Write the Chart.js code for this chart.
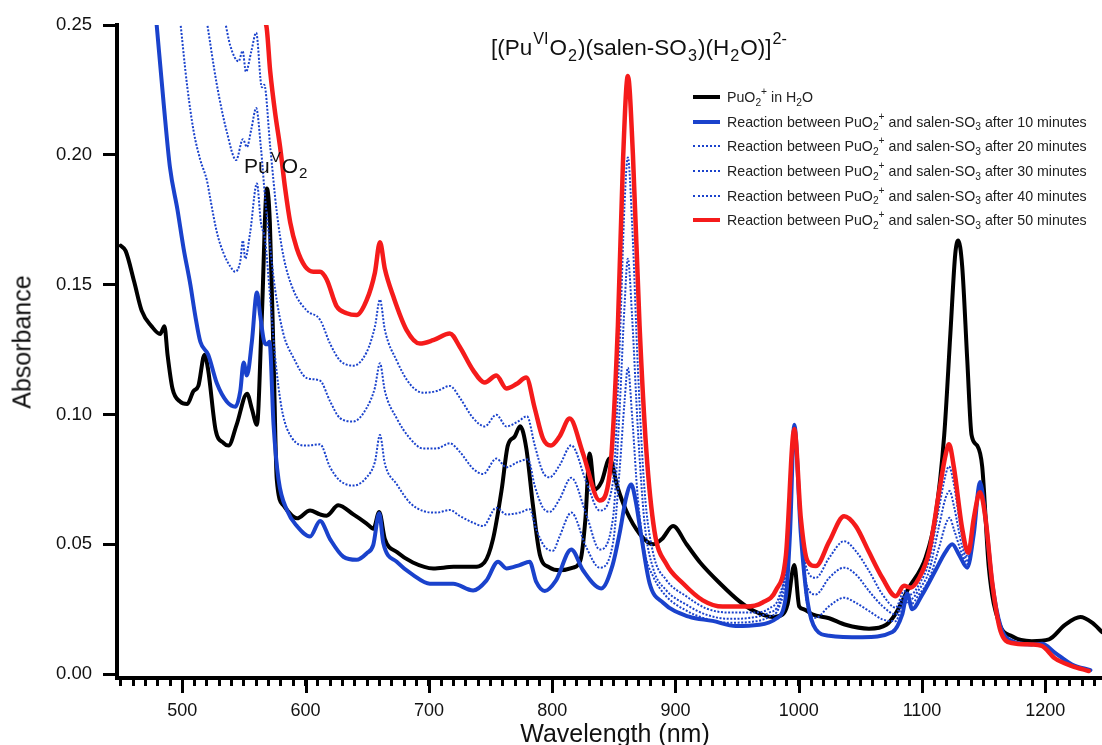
<!DOCTYPE html>
<html>
<head>
<meta charset="utf-8">
<script src="https://cdn.jsdelivr.net/npm/chart.js@4.4.0/dist/chart.umd.min.js"></script>
<style>
  html, body { margin: 0; padding: 0; background: #fff; }
  #wrap { position: relative; width: 1102px; height: 745px; overflow: hidden; font-family: 'Liberation Sans', Arial, sans-serif; color: #111; }
  #chart { position: absolute; left: 0; top: 0; }
  .txt { position: absolute; white-space: nowrap; line-height: 1; }
  .sup { font-size: 0.72em; position: relative; top: -0.7em; line-height: 0; padding: 0 1px; }
  .sub { font-size: 0.72em; position: relative; top: 0.35em; line-height: 0; padding: 0 1px; }
  .leg { position: absolute; left: 693px; font-size: 14.2px; color: #222; }
  .leg .row { position: absolute; left: 0; height: 14px; white-space: nowrap; }
  .leg .ln { position: absolute; left: 0; width: 27px; }
  .leg .lb { position: absolute; left: 34px; top: -8px; line-height: 16px; }
  .leg .sup, .leg .sub { padding: 0; }
</style>
</head>
<body>
<div id="wrap">
  <canvas id="chart" width="1102" height="745"></canvas>

  <div class="txt" style="left:244px; top:155px; font-size:21px;">Pu<span class="sup">V</span>O<span class="sub">2</span></div>
  <div class="txt" style="left:491px; top:37px; font-size:22.5px;">[(Pu<span class="sup">VI</span>O<span class="sub">2</span>)(salen-SO<span class="sub">3</span>)(H<span class="sub">2</span>O)]<span class="sup">2-</span></div>

  <div class="txt" style="left:22px; top:342px; font-size:25px; transform: translate(-50%,-50%) rotate(-90deg);">Absorbance</div>
  <div class="txt" style="left:615px; top:733px; font-size:25px; transform: translate(-50%,-50%);">Wavelength (nm)</div>

  <div class="leg" id="legend"></div>
</div>

<script>
// wavelengths (nm) and absorbance, one pair of arrays per trace
const wlBlack = [450, 454, 461, 467, 475, 482, 485.5, 488, 492, 498, 504, 509, 513, 518, 521, 527, 533.5, 537.5, 544, 552.5, 556.5, 560.5, 564.5, 568.6, 571, 574, 576.6, 582, 593, 603.6, 611.7, 617, 626.5, 638.7, 649.5, 655, 659.7, 664.3, 674, 687, 703.5, 720, 736, 745, 752, 759, 764, 769.6, 774, 779, 784.4, 790, 798, 806, 817, 823, 827, 830.4, 834.4, 840, 846.6, 853, 860, 871, 882, 889, 898, 909, 920, 936, 952, 963, 979, 987, 991, 996.4, 1000.4, 1004, 1011, 1024.7, 1038, 1057, 1071, 1079, 1089, 1103, 1111, 1118, 1123, 1127, 1129.4, 1132.6, 1136.7, 1140.2, 1144.8, 1148.8, 1154.2, 1162.3, 1173, 1189, 1203, 1216, 1228.5, 1238, 1246];
const absBlack = [0.165, 0.163, 0.151, 0.140, 0.134, 0.131, 0.134, 0.123, 0.110, 0.105, 0.104, 0.109, 0.111, 0.123, 0.117, 0.094, 0.089, 0.088, 0.096, 0.108, 0.102, 0.096, 0.138, 0.187, 0.174, 0.122, 0.075, 0.065, 0.060, 0.063, 0.0615, 0.061, 0.065, 0.0615, 0.058, 0.056, 0.0624, 0.052, 0.047, 0.043, 0.0407, 0.0413, 0.0413, 0.043, 0.052, 0.071, 0.088, 0.0915, 0.0955, 0.087, 0.065, 0.046, 0.041, 0.040, 0.041, 0.044, 0.060, 0.085, 0.071, 0.074, 0.083, 0.072, 0.063, 0.054, 0.050, 0.052, 0.057, 0.050, 0.043, 0.035, 0.028, 0.0245, 0.022, 0.023, 0.027, 0.042, 0.026, 0.025, 0.023, 0.0215, 0.019, 0.0175, 0.019, 0.0236, 0.033, 0.045, 0.061, 0.092, 0.131, 0.162, 0.167, 0.157, 0.121, 0.092, 0.088, 0.080, 0.041, 0.020, 0.0146, 0.0127, 0.0134, 0.019, 0.022, 0.0198, 0.0162];

const wl10 = [479, 485, 490, 496, 501, 506.5, 510.5, 514.6, 521, 528, 536, 543, 547, 549.7, 552.4, 556.4, 560.5, 563.2, 566.4, 568.6, 570.7, 574, 578, 585, 593, 603.6, 611.7, 619.8, 630.6, 641.4, 649.5, 654.9, 659.7, 663, 673.8, 687.3, 700.8, 719.7, 735.9, 746.6, 756.1, 762.9, 773.6, 781.7, 787.1, 794, 803, 815.5, 825, 839.8, 849, 855, 860, 864.1, 868, 872, 879, 890, 911, 930, 949, 968, 981.5, 989.6, 993, 996.4, 1001.7, 1007.1, 1013.9, 1024.7, 1051.7, 1076, 1084, 1088, 1092, 1100.3, 1111, 1119, 1124.5, 1130, 1136.7, 1142, 1147, 1151.5, 1157, 1163.7, 1173, 1189, 1197.4, 1208, 1221.7, 1236.6];
const abs10 = [0.251, 0.219, 0.195, 0.179, 0.164, 0.150, 0.138, 0.128, 0.123, 0.112, 0.105, 0.103, 0.109, 0.120, 0.115, 0.128, 0.147, 0.138, 0.128, 0.127, 0.128, 0.096, 0.075, 0.063, 0.057, 0.053, 0.059, 0.052, 0.0452, 0.044, 0.0465, 0.0498, 0.062, 0.0505, 0.0433, 0.0381, 0.0348, 0.0348, 0.0322, 0.036, 0.0433, 0.0407, 0.042, 0.0433, 0.0355, 0.032, 0.036, 0.048, 0.040, 0.033, 0.042, 0.055, 0.068, 0.073, 0.066, 0.054, 0.035, 0.0275, 0.0221, 0.0205, 0.0185, 0.019, 0.0213, 0.030, 0.055, 0.096, 0.054, 0.028, 0.0172, 0.0148, 0.0142, 0.0162, 0.023, 0.031, 0.025, 0.0307, 0.040, 0.047, 0.050, 0.046, 0.041, 0.054, 0.074, 0.060, 0.035, 0.0185, 0.0127, 0.0114, 0.0117, 0.0082, 0.0037, 0.0015];

const wl20 = [498.4, 503.8, 509.2, 514.6, 520, 522.7, 528.1, 533.5, 538.9, 542.9, 547, 549.1, 551, 555, 560.5, 563.7, 567.2, 570.7, 575.3, 580.7, 588.8, 601, 611.7, 619.8, 627.9, 638.7, 649.5, 656.2, 660.3, 664.3, 673.8, 684.6, 695.4, 706.2, 717, 725.1, 735.9, 744, 754.7, 762.9, 773.6, 781.7, 787.1, 793.9, 800.6, 806, 815.5, 827.7, 838.5, 849.3, 854.7, 858.7, 861.4, 864.9, 869.5, 874.9, 881.7, 892.5, 908.7, 924.9, 943.7, 962.6, 976.1, 984.2, 990, 996.4, 1001.7, 1007.1, 1013.9, 1024.7, 1036.8, 1046.3, 1057, 1067.9, 1078.7, 1085.4, 1090.8, 1097.6, 1105.7, 1113.8, 1119.2, 1122.4, 1125.9, 1132.6, 1137.5, 1142, 1147, 1151.5, 1157, 1163.7];
const abs20 = [0.251, 0.227, 0.209, 0.198, 0.190, 0.183, 0.170, 0.162, 0.157, 0.155, 0.159, 0.167, 0.160, 0.170, 0.189, 0.174, 0.167, 0.148, 0.122, 0.102, 0.091, 0.088, 0.0885, 0.0797, 0.0745, 0.0726, 0.0758, 0.0817, 0.0921, 0.081, 0.0732, 0.066, 0.0628, 0.0622, 0.0632, 0.0609, 0.0583, 0.057, 0.0641, 0.0615, 0.0622, 0.0635, 0.0557, 0.0491, 0.0475, 0.053, 0.0622, 0.0488, 0.041, 0.0504, 0.0787, 0.105, 0.118, 0.099, 0.0677, 0.0473, 0.0378, 0.030, 0.0245, 0.0213, 0.0198, 0.0202, 0.0221, 0.026, 0.040, 0.095, 0.054, 0.0262, 0.0217, 0.0262, 0.0294, 0.0275, 0.0243, 0.0211, 0.0204, 0.0281, 0.0268, 0.0307, 0.0365, 0.0487, 0.0577, 0.0602, 0.0557, 0.0461, 0.0422, 0.055, 0.073, 0.060, 0.035, 0.0185];

const wl30 = [520, 528, 536, 543.7, 549.1, 552.4, 556, 559.9, 563.7, 567.2, 570.7, 575.3, 582, 590, 601, 611.7, 619.8, 627.9, 638.7, 649.5, 656.2, 660.3, 664.3, 673.8, 684.6, 695.4, 706.2, 717, 725.1, 735.9, 744, 754.7, 762.9, 772.3, 780.4, 785.8, 792.5, 797.9, 806, 815.5, 827.7, 838.5, 849.3, 854.7, 858.7, 861.4, 864.9, 869.5, 874.9, 881.7, 892.5, 908.7, 924.9, 943.7, 962.6, 976.1, 984.2, 990, 996.4, 1001.7, 1007.1, 1013.9, 1024.7, 1036.8, 1046.3, 1057, 1067.9, 1078.7, 1085.4, 1090.8, 1097.6, 1105.7, 1113.8, 1119.2, 1122.4, 1125.9, 1132.6, 1137.5, 1142, 1147, 1151.5, 1157, 1163.7];
const abs30 = [0.251, 0.227, 0.209, 0.198, 0.206, 0.203, 0.210, 0.218, 0.203, 0.183, 0.167, 0.148, 0.131, 0.122, 0.114, 0.113, 0.1051, 0.0986, 0.0973, 0.1025, 0.1103, 0.1197, 0.109, 0.0986, 0.0908, 0.0869, 0.0869, 0.0889, 0.0856, 0.0791, 0.0771, 0.083, 0.0797, 0.0817, 0.0827, 0.0726, 0.0641, 0.0625, 0.0674, 0.0756, 0.0614, 0.048, 0.060, 0.102, 0.142, 0.160, 0.137, 0.0944, 0.0583, 0.041, 0.0323, 0.0268, 0.0229, 0.0213, 0.0218, 0.0237, 0.0276, 0.045, 0.095, 0.055, 0.0333, 0.0307, 0.0371, 0.041, 0.0384, 0.032, 0.0262, 0.023, 0.030, 0.0288, 0.0326, 0.0397, 0.057, 0.068, 0.0705, 0.0647, 0.049, 0.0435, 0.0557, 0.073, 0.060, 0.035, 0.0185];

const wl40 = [534.8, 538.9, 545.6, 548.9, 551.6, 556, 559.9, 564.5, 566.4, 571.3, 576.6, 582, 590, 601, 611.7, 619.8, 627.9, 638.7, 649.5, 656.2, 660.3, 664.3, 673.8, 684.6, 695.4, 706.2, 717, 725.1, 735.9, 745.3, 754.7, 762.9, 772.3, 779.6, 785.8, 792.5, 797.9, 806, 815.5, 827.7, 838.5, 849.3, 854.7, 858.7, 861.4, 864.9, 869.5, 874.9, 881.7, 892.5, 908.7, 924.9, 943.7, 962.6, 976.1, 984.2, 991, 996.4, 1001.7, 1007.1, 1013.9, 1024.7, 1036.8, 1046.3, 1057, 1067.9, 1078.7, 1085.4, 1090.8, 1097.6, 1105.7, 1113.8, 1119.2, 1121.9, 1125.9, 1132.6, 1137.5, 1142, 1147, 1151.5, 1157, 1163.7];
const abs40 = [0.251, 0.242, 0.236, 0.240, 0.232, 0.240, 0.247, 0.226, 0.227, 0.203, 0.178, 0.161, 0.148, 0.140, 0.1365, 0.1273, 0.1208, 0.1188, 0.124, 0.1338, 0.1442, 0.1325, 0.1208, 0.1117, 0.1084, 0.109, 0.111, 0.1064, 0.0986, 0.0954, 0.0999, 0.0954, 0.0973, 0.0993, 0.0882, 0.0778, 0.0758, 0.0804, 0.0881, 0.074, 0.063, 0.074, 0.126, 0.181, 0.199, 0.173, 0.118, 0.071, 0.047, 0.0363, 0.030, 0.0253, 0.0237, 0.0237, 0.0253, 0.030, 0.0473, 0.095, 0.056, 0.0397, 0.0371, 0.0448, 0.0512, 0.0474, 0.0397, 0.0307, 0.0256, 0.032, 0.0307, 0.0345, 0.0435, 0.064, 0.077, 0.080, 0.073, 0.0525, 0.045, 0.057, 0.073, 0.060, 0.035, 0.0185];

const wl50 = [564, 568, 571.3, 575.3, 579.3, 583.4, 587.5, 592.8, 599.6, 606.3, 611.7, 617.1, 625.2, 633.3, 641.4, 649.5, 656.2, 660.3, 664.3, 671.1, 681.9, 692.7, 703.5, 717, 725.1, 735.9, 745.3, 754.7, 762.9, 771, 779, 785.8, 792.5, 799, 806, 814.2, 825, 838.5, 846.6, 853.3, 857.4, 861.4, 865.5, 870.9, 876.3, 883, 892.5, 906, 922.2, 938.3, 957.2, 970.7, 981.5, 989.6, 996.4, 1001.7, 1007.1, 1013.9, 1024.7, 1036.8, 1046.3, 1057, 1067.9, 1078.7, 1085.4, 1090.8, 1097.6, 1105.7, 1113.8, 1119.2, 1121.9, 1125.9, 1132.6, 1137.5, 1142, 1147, 1151.5, 1157, 1163.7, 1173, 1189, 1197.4, 1208, 1221.7, 1235.2];
const abs50 = [0.252, 0.250, 0.232, 0.216, 0.203, 0.187, 0.174, 0.164, 0.157, 0.155, 0.155, 0.152, 0.1416, 0.139, 0.1383, 0.144, 0.1546, 0.1663, 0.156, 0.1455, 0.1325, 0.1273, 0.1286, 0.1312, 0.126, 0.117, 0.1123, 0.115, 0.110, 0.1117, 0.1142, 0.1025, 0.0908, 0.088, 0.0915, 0.0984, 0.085, 0.0669, 0.077, 0.134, 0.197, 0.2304, 0.200, 0.134, 0.0866, 0.055, 0.0425, 0.035, 0.0284, 0.026, 0.026, 0.0276, 0.0323, 0.0457, 0.0944, 0.060, 0.0435, 0.0416, 0.051, 0.0608, 0.057, 0.047, 0.037, 0.030, 0.034, 0.0333, 0.037, 0.047, 0.070, 0.0846, 0.0885, 0.0795, 0.056, 0.0467, 0.060, 0.070, 0.060, 0.035, 0.0166, 0.012, 0.0114, 0.0108, 0.006, 0.0031, 0.0012];

const yTicks = [0, 0.05, 0.10, 0.15, 0.20, 0.25];
const xLabels = [500, 600, 700, 800, 900, 1000, 1100, 1200];

const BLUE = '#1a42cc';
const RED = '#f51b1b';

function pts(xs, ys) {
  return xs.map((x, i) => ({ x: x, y: ys[i] }));
}

// long ticks every 100 nm, the axis itself only carries the 10 nm ones
const majorTicks = {
  id: 'majorTicks',
  afterDraw(chart) {
    const sx = chart.scales.x;
    const ctx = chart.ctx;
    ctx.save();
    ctx.strokeStyle = '#000';
    ctx.lineWidth = 3;
    xLabels.forEach(v => {
      const px = Math.round(sx.getPixelForValue(v)) + 0.5;
      ctx.beginPath();
      ctx.moveTo(px, sx.top);
      ctx.lineTo(px, sx.top + 15);
      ctx.stroke();
    });
    ctx.restore();
  }
};

Chart.defaults.font.family = "'Liberation Sans', Arial, sans-serif";
Chart.defaults.color = '#111';

const dotted = { borderColor: BLUE, borderWidth: 2, borderDash: [2, 1.6], borderCapStyle: 'butt' };

new Chart(document.getElementById('chart'), {
  type: 'line',
  data: {
    datasets: [
      { label: 'PuO2+ in H2O', data: pts(wlBlack, absBlack), borderColor: '#000', borderWidth: 4, order: 5 },
      { label: '10 minutes', data: pts(wl10, abs10), borderColor: BLUE, borderWidth: 4, order: 4 },
      Object.assign({ label: '20 minutes', data: pts(wl20, abs20), order: 3 }, dotted),
      Object.assign({ label: '30 minutes', data: pts(wl30, abs30), order: 2 }, dotted),
      Object.assign({ label: '40 minutes', data: pts(wl40, abs40), order: 1 }, dotted),
      { label: '50 minutes', data: pts(wl50, abs50), borderColor: RED, borderWidth: 4.5, order: 0 }
    ]
  },
  options: {
    responsive: false,
    animation: false,
    elements: {
      point: { radius: 0 },
      line: { cubicInterpolationMode: 'monotone', borderCapStyle: 'round', borderJoinStyle: 'round' }
    },
    layout: { padding: { top: 25, right: 0, left: 0, bottom: 0 } },
    plugins: { legend: { display: false }, tooltip: { enabled: false } },
    scales: {
      x: {
        type: 'linear',
        min: 447,
        max: 1246,
        border: { display: true, color: '#000', width: 4 },
        grid: { drawOnChartArea: false, drawTicks: true, tickLength: 8, lineWidth: 3, color: '#000' },
        ticks: {
          stepSize: 10,
          autoSkip: false,
          includeBounds: false,
          maxRotation: 0,
          padding: 14,
          font: { size: 18 },
          callback: v => (xLabels.includes(v) ? String(v) : '')
        },
        afterFit: s => { s.height = 67; s.paddingLeft = 0; s.paddingRight = 0; }
      },
      y: {
        type: 'linear',
        min: -0.0015,
        max: 0.25,
        border: { display: true, color: '#000', width: 4 },
        grid: { drawOnChartArea: false, drawTicks: true, tickLength: 14, lineWidth: 3, color: '#000' },
        ticks: {
          stepSize: 0.05,
          includeBounds: false,
          padding: 11,
          font: { size: 18.5 },
          callback: v => {
            const t = yTicks.find(k => Math.abs(k - v) < 1e-6);
            return t === undefined ? '' : t.toFixed(2);
          }
        },
        afterFit: s => { s.width = 117; }
      }
    }
  },
  plugins: [majorTicks]
});

// legend drawn as html so the sub/superscripts stay real text
const legendRows = [
  { line: 'solid', color: '#000', text: 'PuO<span class="sub">2</span><span class="sup">+</span> in H<span class="sub">2</span>O' },
  { line: 'solid', color: BLUE, text: 'Reaction between PuO<span class="sub">2</span><span class="sup">+</span> and salen-SO<span class="sub">3</span> after 10 minutes' },
  { line: 'dot', color: BLUE, text: 'Reaction between PuO<span class="sub">2</span><span class="sup">+</span> and salen-SO<span class="sub">3</span> after 20 minutes' },
  { line: 'dot', color: BLUE, text: 'Reaction between PuO<span class="sub">2</span><span class="sup">+</span> and salen-SO<span class="sub">3</span> after 30 minutes' },
  { line: 'dot', color: BLUE, text: 'Reaction between PuO<span class="sub">2</span><span class="sup">+</span> and salen-SO<span class="sub">3</span> after 40 minutes' },
  { line: 'solid', color: RED, text: 'Reaction between PuO<span class="sub">2</span><span class="sup">+</span> and salen-SO<span class="sub">3</span> after 50 minutes' }
];
const legendY = [97, 121.7, 146.3, 171, 195.7, 220.3];
let html = '';
legendRows.forEach((r, i) => {
  const ln = r.line === 'solid'
    ? `<div class="ln" style="top:-2px;border-top:4px solid ${r.color};"></div>`
    : `<div class="ln" style="top:-1px;border-top:2px dotted ${r.color};"></div>`;
  html += `<div class="row" style="top:${legendY[i]}px">${ln}<div class="lb">${r.text}</div></div>`;
});
document.getElementById('legend').innerHTML = html;
</script>
</body>
</html>
